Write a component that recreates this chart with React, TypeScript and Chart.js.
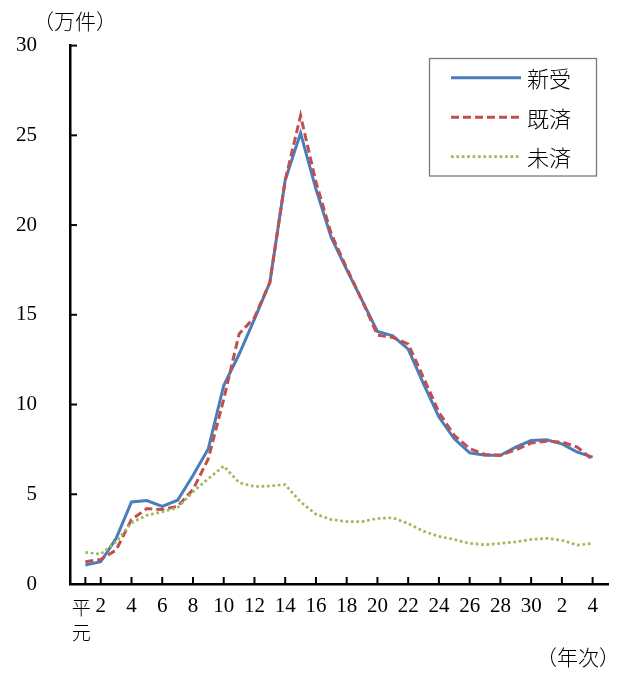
import React, { useEffect, useRef } from "react";
import { Chart, registerables } from "chart.js";

Chart.register(...registerables);

// Years: 平成元年 … 平成30年, 令和元年 … 令和4年
const categories = [
  "平元", "2", "3", "4", "5", "6", "7", "8", "9", "10",
  "11", "12", "13", "14", "15", "16", "17", "18", "19", "20",
  "21", "22", "23", "24", "25", "26", "27", "28", "29", "30",
  "令元", "2", "3", "4",
];
// indices of categories that carry a tick label
const xTickIndices = [0, 1, 3, 5, 7, 9, 11, 13, 15, 17, 19, 21, 23, 25, 27, 29, 31, 33];
const yTickValues = [0, 5, 10, 15, 20, 25, 30];

const seriesNames = ["新受", "既済", "未済"];
const shinju = [
  1.06, 1.24, 2.54, 4.57, 4.65, 4.33, 4.67, 6.05, 7.54, 11.06,
  12.8, 14.76, 16.8, 22.5, 25.13, 22.0, 19.3, 17.52, 15.8, 14.07,
  13.83, 13.09, 11.15, 9.3, 8.09, 7.31, 7.17, 7.17, 7.63, 8.0,
  8.04, 7.81, 7.35, 7.07,
];
const kisai = [
  1.24, 1.37, 1.89, 3.59, 4.2, 4.15, 4.33, 5.26, 6.98, 10.3,
  13.93, 14.85, 16.8, 22.5, 26.1, 22.4, 19.5, 17.6, 15.8, 13.87,
  13.74, 13.37, 11.5, 9.57, 8.28, 7.54, 7.22, 7.17, 7.48, 7.85,
  7.96, 7.91, 7.63, 6.93,
];
const misai = [
  1.76, 1.67, 2.35, 3.41, 3.83, 4.02, 4.26, 5.13, 5.87, 6.57,
  5.65, 5.43, 5.46, 5.54, 4.57, 3.89, 3.59, 3.48, 3.48, 3.65,
  3.69, 3.37, 2.94, 2.65, 2.48, 2.26, 2.19, 2.26, 2.35, 2.48,
  2.54, 2.44, 2.17, 2.26,
];

const SERIF = "'Liberation Serif', 'Noto Sans CJK JP', serif";
const CJK = "'Noto Sans CJK JP', sans-serif";

const toPoints = (arr: number[]) => arr.map((v, i) => ({ x: i, y: v }));

const decorPlugin = {
  id: "decor",
  afterDraw(chart: any) {
    const { ctx, chartArea, scales } = chart;
    const xs = scales.x;
    const ys = scales.y;
    ctx.save();
    // inward tick marks
    ctx.strokeStyle = "#000";
    ctx.lineWidth = 2;
    xTickIndices.forEach((i) => {
      const px = xs.getPixelForValue(i);
      ctx.beginPath();
      ctx.moveTo(px, chartArea.bottom);
      ctx.lineTo(px, chartArea.bottom - 7);
      ctx.stroke();
    });
    yTickValues.forEach((v) => {
      if (v === 0) return;
      const py = ys.getPixelForValue(v);
      ctx.beginPath();
      ctx.moveTo(chartArea.left, py);
      ctx.lineTo(chartArea.left + 7, py);
      ctx.stroke();
    });

    ctx.fillStyle = "#000";
    ctx.textAlign = "center";
    ctx.textBaseline = "middle";
    // first category label, stacked vertically
    const first = categories[0];
    const fx = xs.getPixelForValue(0) - 4;
    ctx.font = `300 19px ${CJK}`;
    ctx.fillText(first[0], fx, 608);
    ctx.fillText(first[1], fx, 633);

    // unit labels
    ctx.font = `300 21px ${CJK}`;
    ctx.fillText("（万件）", 75, 21);
    ctx.fillText("（年次）", 578, 657);

    // legend
    ctx.strokeStyle = "#7a7a7a";
    ctx.lineWidth = 1.3;
    ctx.strokeRect(429.5, 58.5, 167, 117.5);
    chart.data.datasets.forEach((ds: any, i: number) => {
      const ly = 77.7 + i * 39.5;
      ctx.save();
      ctx.strokeStyle = ds.borderColor;
      ctx.lineWidth = ds.borderWidth;
      ctx.setLineDash(ds.borderDash || []);
      ctx.lineCap = "butt";
      ctx.beginPath();
      ctx.moveTo(451, ly);
      ctx.lineTo(521, ly);
      ctx.stroke();
      ctx.restore();
      ctx.fillStyle = "#000";
      ctx.font = `300 22px ${CJK}`;
      ctx.textAlign = "left";
      ctx.textBaseline = "middle";
      ctx.fillText(ds.label, 527, ly + 1);
    });
    ctx.restore();
  },
};

export default function App() {
  const ref = useRef<HTMLCanvasElement | null>(null);

  useEffect(() => {
    document.body.style.margin = "0";
    if (!ref.current) return;
    const chart = new Chart(ref.current, {
      type: "line",
      data: {
        datasets: [
          {
            label: seriesNames[0],
            data: toPoints(shinju),
            borderColor: "#4a7ebb",
            borderWidth: 3,
            pointRadius: 0,
            tension: 0,
            order: 3,
          },
          {
            label: seriesNames[1],
            data: toPoints(kisai),
            borderColor: "#c0504d",
            borderWidth: 3,
            borderDash: [8, 4],
            pointRadius: 0,
            tension: 0,
            order: 2,
          },
          {
            label: seriesNames[2],
            data: toPoints(misai),
            borderColor: "#9bbb59",
            borderWidth: 2.7,
            borderDash: [2.7, 2.7],
            pointRadius: 0,
            tension: 0,
            order: 1,
          },
        ] as any,
      },
      options: {
        animation: false,
        responsive: false,
        maintainAspectRatio: false,
        layout: { padding: { left: 0, top: 44, right: 11, bottom: 0 } },
        plugins: {
          legend: { display: false },
          tooltip: { enabled: false },
        },
        scales: {
          x: {
            type: "linear",
            min: -1,
            max: 34,
            grid: { display: false, drawTicks: false },
            border: { display: true, color: "#000", width: 2.5 },
            afterBuildTicks: (scale: any) => {
              scale.ticks = xTickIndices.map((v) => ({ value: v }));
            },
            afterFit: (scale: any) => {
              scale.height = 89;
            },
            ticks: {
              autoSkip: false,
              maxRotation: 0,
              padding: 10,
              color: "#000",
              font: { family: SERIF, size: 21, lineHeight: 1.2 },
              callback: (value: any) => {
                const i = Number(value);
                if (i === 0) return "";
                const c = categories[i];
                return c.startsWith("令") ? c.slice(1) : c;
              },
            },
          },
          y: {
            type: "linear",
            min: 0,
            max: 30,
            grid: { display: false, drawTicks: false },
            border: { display: true, color: "#000", width: 2.5 },
            afterBuildTicks: (scale: any) => {
              scale.ticks = yTickValues.map((v) => ({ value: v }));
            },
            afterFit: (scale: any) => {
              scale.width = 70;
            },
            ticks: {
              padding: 33,
              color: "#000",
              font: { family: SERIF, size: 21 },
            },
          },
        },
      },
      plugins: [decorPlugin],
    });
    return () => chart.destroy();
  }, []);

  return (
    <div style={{ width: 619, height: 673 }}>
      <canvas ref={ref} width={619} height={673} />
    </div>
  );
}
